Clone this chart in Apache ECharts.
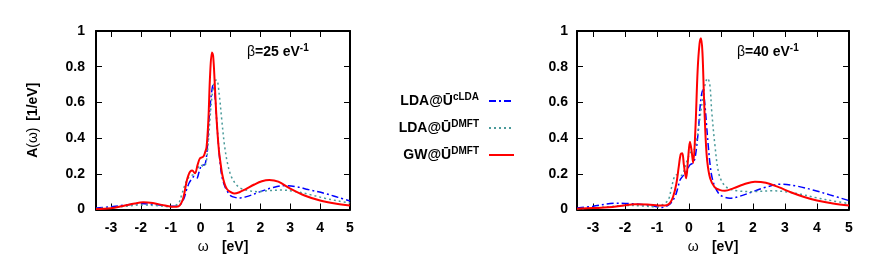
<!DOCTYPE html>
<html><head><meta charset="utf-8">
<script src="https://cdn.jsdelivr.net/npm/echarts@6/dist/echarts.min.js"></script>
<style>html,body{margin:0;padding:0;background:#fff}#c{width:872px;height:261px}</style>
</head><body><div id="c"></div>
<script>
// ---- Data ----
const xTicks = [-3,-2,-1,0,1,2,3,4,5];
const yTicks = [0,0.2,0.4,0.6,0.8,1];

// beta = 25 eV^-1
const gw25X = [-3.5,-3,-2.6,-2.2,-1.92,-1.6,-1.3,-0.97,-0.8,-0.69,-0.58,-0.47,-0.4,-0.35,-0.28,-0.19,-0.1,-0.02,0.09,0.15,0.2,0.26,0.32,0.38,0.42,0.47,0.52,0.57,0.62,0.66,0.72,0.8,0.88,0.98,1.12,1.3,1.5,1.8,2.05,2.3,2.6,3.0,3.5,4.0,4.5,5.0];
const gw25Y = [0.003,0.007,0.02,0.034,0.04,0.036,0.026,0.016,0.016,0.025,0.063,0.156,0.195,0.212,0.218,0.203,0.25,0.287,0.296,0.32,0.35,0.5,0.76,0.88,0.86,0.72,0.55,0.42,0.32,0.27,0.2,0.145,0.115,0.1,0.09,0.097,0.113,0.14,0.158,0.165,0.156,0.117,0.077,0.05,0.033,0.022];

const cl25X = [-3.5,-3,-2.5,-2.03,-1.47,-0.91,-0.7,-0.56,-0.47,-0.38,-0.3,-0.22,-0.13,-0.05,0.05,0.12,0.2,0.28,0.35,0.42,0.48,0.55,0.6,0.66,0.72,0.81,0.9,1.0,1.15,1.32,1.6,2.0,2.4,2.83,3.2,3.6,4.16,4.6,5.0];
const cl25Y = [0.008,0.016,0.025,0.033,0.027,0.018,0.025,0.06,0.11,0.15,0.17,0.185,0.175,0.21,0.25,0.25,0.3,0.5,0.63,0.697,0.64,0.47,0.36,0.25,0.18,0.13,0.1,0.078,0.068,0.065,0.075,0.1,0.122,0.134,0.128,0.112,0.09,0.068,0.048];

const dm25X = [-3.5,-3,-2.5,-2,-1.5,-1,-0.74,-0.62,-0.52,-0.42,-0.3,-0.2,-0.1,0,0.1,0.18,0.25,0.32,0.4,0.47,0.54,0.62,0.71,0.8,0.9,1.04,1.26,1.5,1.93,2.3,2.7,3.2,3.7,4.16,4.6,5.0];
const dm25Y = [0.005,0.01,0.018,0.025,0.022,0.015,0.035,0.09,0.14,0.175,0.19,0.2,0.23,0.25,0.24,0.26,0.36,0.52,0.66,0.72,0.725,0.65,0.5,0.36,0.26,0.18,0.128,0.11,0.1,0.106,0.109,0.1,0.082,0.063,0.048,0.036];

// beta = 40 eV^-1
const gw40X = [-3.5,-3,-2.52,-2,-1.69,-1.3,-0.96,-0.75,-0.6,-0.5,-0.4,-0.32,-0.26,-0.21,-0.16,-0.09,-0.03,0.03,0.08,0.13,0.2,0.27,0.33,0.375,0.42,0.47,0.52,0.57,0.66,0.8,0.95,1.12,1.4,1.7,2.06,2.4,2.8,3.2,3.6,4.0,4.5,5.0];
const gw40Y = [0.004,0.008,0.012,0.024,0.029,0.028,0.023,0.022,0.035,0.07,0.14,0.24,0.31,0.315,0.25,0.175,0.28,0.38,0.33,0.26,0.45,0.78,0.93,0.959,0.88,0.62,0.4,0.27,0.175,0.125,0.11,0.105,0.12,0.14,0.156,0.15,0.125,0.095,0.07,0.05,0.033,0.022];

const cl40X = [-3.5,-3,-2.31,-2,-1.48,-1,-0.85,-0.6,-0.44,-0.35,-0.28,-0.18,-0.09,0.03,0.12,0.19,0.29,0.36,0.43,0.5,0.55,0.6,0.66,0.72,0.81,0.95,1.1,1.28,1.6,2.0,2.4,2.9,3.4,3.9,4.4,5.0];
const cl40Y = [0.008,0.018,0.035,0.034,0.028,0.016,0.011,0.03,0.072,0.12,0.165,0.19,0.21,0.25,0.26,0.29,0.44,0.6,0.67,0.58,0.47,0.36,0.25,0.18,0.128,0.085,0.07,0.063,0.075,0.1,0.125,0.142,0.13,0.108,0.082,0.05];

const dm40X = [-3.5,-3,-2.5,-2,-1.5,-1,-0.85,-0.65,-0.55,-0.44,-0.35,-0.25,-0.15,-0.05,0.05,0.15,0.25,0.34,0.48,0.58,0.65,0.71,0.81,0.92,1.05,1.23,1.5,2.0,2.58,3.0,3.5,4.0,4.5,5.0];
const dm40Y = [0.004,0.009,0.016,0.023,0.02,0.015,0.025,0.053,0.12,0.19,0.195,0.19,0.22,0.28,0.32,0.33,0.4,0.51,0.68,0.735,0.7,0.55,0.36,0.21,0.15,0.118,0.105,0.1,0.105,0.1,0.085,0.065,0.048,0.033];

// ---- Styling ----
const FONT = 'Liberation Sans, Arial, Helvetica, sans-serif';
const pairs = (xs, ys) => xs.map((x, i) => [x, ys[i]]);
const LEG = {
  cLDA: '{b|LDA@Ū}{s|cLDA}',
  DMFT: '{b|LDA@Ū}{s|DMFT}',
  GW: '{b|GW@Ū}{s|DMFT}'
};
const richTxt = {
  b: {fontFamily: FONT, fontWeight: 'bold', fontSize: 14, color: '#000'},
  s: {fontFamily: FONT, fontWeight: 'bold', fontSize: 10, color: '#000', padding: [0,0,8,0]},
  w: {fontFamily: FONT, fontWeight: 'normal', fontSize: 14, color: '#000'}
};
const richLeg = {
  b: richTxt.b,
  s: {fontFamily: FONT, fontWeight: 'bold', fontSize: 10, color: '#000', padding: [0,5,8,0]}
};

const chart = echarts.init(document.getElementById('c'), null, {renderer: 'canvas'});

function xAx(grid, bottom) {
  return {
    type: 'value', gridIndex: grid, min: -3.5, max: 5,
    position: bottom ? 'bottom' : 'top',
    name: bottom ? '{w|ω}    {b|[eV]}' : '',
    nameLocation: 'middle', nameGap: 26,
    nameTextStyle: {rich: richTxt},
    axisLine: {show: true, onZero: false, lineStyle: {color: '#000', width: 2}},
    axisTick: {show: true, inside: true, length: 6, customValues: xTicks, lineStyle: {color: '#000', width: 1}},
    axisLabel: {show: bottom, customValues: xTicks, margin: 12, fontFamily: FONT, fontWeight: 'bold', fontSize: 14, color: '#000'},
    splitLine: {show: false}
  };
}
function yAx(grid, left, showName, margin) {
  return {
    type: 'value', gridIndex: grid, min: 0, max: 1,
    position: left ? 'left' : 'right',
    name: showName ? '{b|A}{w|(ω)}  {b|[1/eV]}' : '',
    nameLocation: 'middle', nameGap: 56, nameRotate: 90,
    nameTextStyle: {rich: richTxt},
    axisLine: {show: true, onZero: false, lineStyle: {color: '#000', width: 2}},
    axisTick: {show: true, inside: true, length: 6, customValues: yTicks, lineStyle: {color: '#000', width: 1}},
    axisLabel: {show: left, customValues: yTicks, margin: margin, fontFamily: FONT, fontWeight: 'bold', fontSize: 14, color: '#000',
      formatter: v => String(+v.toFixed(1))},
    splitLine: {show: false}
  };
}

function line(name, xs, ys, axis, color, width, type) {
  return {
    type: 'line', name: name, xAxisIndex: axis, yAxisIndex: axis,
    data: pairs(xs, ys), showSymbol: false, symbol: 'none', smooth: 0.35,
    lineStyle: {color: color, width: width, type: type},
    itemStyle: {color: color}, z: name === 'GW' ? 3 : 2, animation: false
  };
}

const BLUE = '#0000ff', TEAL = '#4a9a9a', RED = '#ff0000';
const dashDot = [7, 3, 2, 3];
const dotted = [2, 3];

function legendRow(name, top) {
  return {
    data: [name], right: 357, top: top, orient: 'horizontal', align: 'right',
    itemWidth: 25, itemHeight: 10, padding: 0,
    itemStyle: {opacity: 0},
    formatter: n => LEG[n],
    textStyle: {rich: richLeg}, selectedMode: false
  };
}

chart.setOption({
  animation: false,
  backgroundColor: '#fff',
  grid: [
    {left: 96, top: 31, width: 254, height: 178.5},
    {left: 577, top: 31, width: 272, height: 178.5}
  ],
  xAxis: [xAx(0, true), xAx(0, false), xAx(1, true), xAx(1, false)],
  yAxis: [yAx(0, true, true, 11), yAx(0, false, false, 0), yAx(1, true, false, 9), yAx(1, false, false, 0)],
  legend: [legendRow('cLDA', 92), legendRow('DMFT', 119), legendRow('GW', 146)],
  graphic: [
    {type: 'text', left: 247, top: 43, style: {text: '{w|β}{b|=25 eV}{s|-1}', rich: richTxt}},
    {type: 'text', left: 737, top: 43, style: {text: '{w|β}{b|=40 eV}{s|-1}', rich: richTxt}}
  ],
  series: [
    line('cLDA', cl25X, cl25Y, 0, BLUE, 1.5, dashDot),
    line('DMFT', dm25X, dm25Y, 0, TEAL, 1.5, dotted),
    line('GW', gw25X, gw25Y, 0, RED, 2, 'solid'),
    line('cLDA', cl40X, cl40Y, 2, BLUE, 1.5, dashDot),
    line('DMFT', dm40X, dm40Y, 2, TEAL, 1.5, dotted),
    line('GW', gw40X, gw40Y, 2, RED, 2, 'solid')
  ]
});
</script></body></html>
